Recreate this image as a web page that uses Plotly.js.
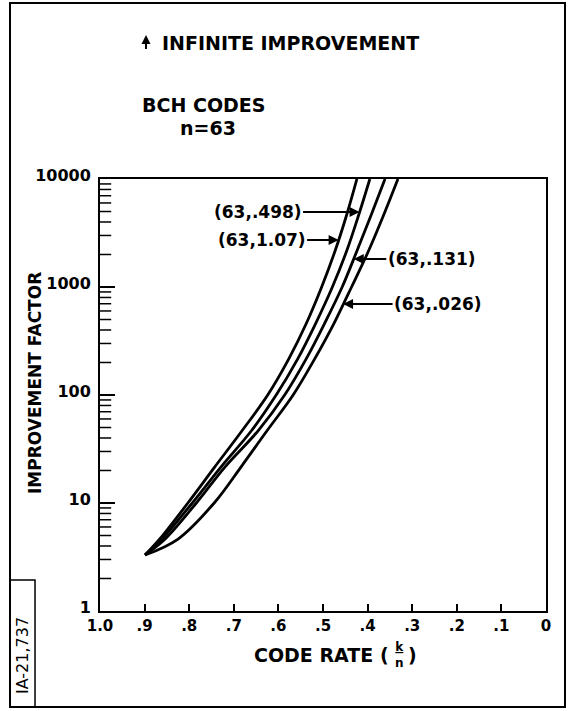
<!DOCTYPE html>
<html>
<head>
<meta charset="utf-8">
<script src="https://cdn.plot.ly/plotly-3.0.1.min.js"></script>
<style>html,body{margin:0;padding:0;background:#fff;}</style>
</head>
<body>
<div id="chart" style="width:568px;height:711px;"></div>
<script>
// ---- data ----
const improvement = [3.3, 4.64, 10, 21.5, 46.4, 100, 215, 464, 1000, 2154, 4642, 10000];
const rate_107 = [0.899, 0.866, 0.803, 0.743, 0.682, 0.624, 0.577, 0.537, 0.503, 0.473, 0.447, 0.424];
const rate_498 = [0.899, 0.861, 0.793, 0.729, 0.661, 0.605, 0.557, 0.516, 0.479, 0.447, 0.420, 0.395];
const rate_131 = [0.899, 0.854, 0.784, 0.720, 0.646, 0.586, 0.538, 0.496, 0.457, 0.424, 0.392, 0.361];
const rate_026 = [0.899, 0.825, 0.744, 0.684, 0.626, 0.567, 0.519, 0.475, 0.436, 0.398, 0.364, 0.332];
const curveLabels = ['(63,1.07)', '(63,.498)', '(63,.131)', '(63,.026)'];
const infiniteRates = [0.426, 0.287, 0.119];
const xTickVals = [1.0, 0.9, 0.8, 0.7, 0.6, 0.5, 0.4, 0.3, 0.2, 0.1, 0];
const xTickText = ['1.0', '.9', '.8', '.7', '.6', '.5', '.4', '.3', '.2', '.1', '0'];
const yTickVals = [1, 10, 100, 1000, 10000];
const yTickText = ['1', '10', '100', '1000', '10000'];
const yMinorVals = [2,3,4,5,6,7,8,9,20,30,40,50,60,70,80,90,200,300,400,500,600,700,800,900,2000,3000,4000,5000,6000,7000,8000,9000];

const FONT = 'DejaVu Sans';
const series = [rate_107, rate_498, rate_131, rate_026];
const traces = series.map((xs, i) => ({
  type: 'scatter', mode: 'lines', x: xs, y: improvement, name: curveLabels[i],
  line: {color: 'black', width: 2.8, shape: 'spline', smoothing: 1.0},
  hoverinfo: 'skip'
}));
// short minor tick marks on the left axis (clipped to the plot area, so only the inside half shows)
traces.push({
  type: 'scatter', mode: 'markers', x: yMinorVals.map(() => 1.0), y: yMinorVals,
  marker: {symbol: 'line-ew', size: 16, color: 'black', line: {color: 'black', width: 1.5}},
  cliponaxis: true, hoverinfo: 'skip', showlegend: false
});

// label arrows: tip location (x, log10 y) and text offset in px
const labelTips = [
  {x: 0.465, y: 3.435, ax: -77},
  {x: 0.418, y: 3.694, ax: -102},
  {x: 0.431, y: 3.259, ax: 78},
  {x: 0.455, y: 2.843, ax: 95}
];
const annotations = [];
labelTips.forEach((t, i) => {
  annotations.push({
    x: t.x, y: t.y, xref: 'x', yref: 'y', ax: t.ax, ay: 0,
    text: curveLabels[i], showarrow: true, arrowhead: 2, arrowsize: 1, arrowwidth: 2,
    arrowcolor: 'black', font: {family: FONT, size: 17, color: 'black', weight: 'bold'}
  });
});
infiniteRates.forEach((r, i) => {
  annotations.push({
    x: r, y: i === 0 ? 4.204 : 4.24, xref: 'x', yref: 'y', ax: 0, ay: i === 0 ? 22 : 26,
    text: ' ', font: {size: 1}, showarrow: true, arrowhead: 2, arrowsize: 1.1, arrowwidth: 2,
    arrowcolor: 'black', standoff: 0
  });
});
// title arrow
annotations.push({x: 0.1031, y: 1.3333, xref: 'paper', yref: 'paper', ax: 0, ay: 16,
  text: ' ', font: {size: 1}, showarrow: true, arrowhead: 2, arrowsize: 0.9, arrowwidth: 2, arrowcolor: 'black'});
const txt = (text, x, y, opts) => Object.assign({
  text: text, x: x, y: y, xref: 'paper', yref: 'paper', showarrow: false,
  xanchor: 'left', yanchor: 'middle',
  font: {family: FONT, size: 19, color: 'black', weight: 'bold'}
}, opts || {});
annotations.push(txt('INFINITE IMPROVEMENT', 0.1345, 1.3148));
annotations.push(txt('BCH CODES', 0.0897, 1.1713));
annotations.push(txt('n=63', 0.1749, 1.118));
annotations.push(txt('IMPROVEMENT FACTOR', -0.1457, 0.5278,
  {xanchor: 'center', textangle: -90, font: {family: FONT, size: 17, color: 'black', weight: 'bold'}}));
annotations.push(txt('CODE RATE (', 0.6525, -0.1019,
  {xanchor: 'right', font: {family: FONT, size: 19, color: 'black', weight: 'bold'}}));
annotations.push(txt('<u>k</u><br>n', 0.6726, -0.1019,
  {xanchor: 'center', font: {family: FONT, size: 12, color: 'black', weight: 'bold'}}));
annotations.push(txt(')', 0.6861, -0.1019,
  {font: {family: FONT, size: 19, color: 'black', weight: 'bold'}}));
annotations.push(txt('IA-21,737', -0.1749, -0.1019,
  {xanchor: 'center', textangle: -90, font: {family: FONT, size: 16, color: 'black'}}));

const layout = {
  width: 568, height: 711,
  margin: {l: 100, r: 22, t: 179, b: 100, pad: 0},
  paper_bgcolor: 'white', plot_bgcolor: 'white', showlegend: false,
  font: {family: FONT, color: 'black'},
  xaxis: {
    range: [1, 0], tickmode: 'array', tickvals: xTickVals, ticktext: xTickText,
    ticks: 'inside', ticklen: 7, tickwidth: 2, tickcolor: 'black',
    showline: true, linewidth: 2, linecolor: 'black', mirror: true,
    showgrid: false, zeroline: false,
    tickfont: {family: FONT, size: 15, color: 'black', weight: 'bold'}
  },
  yaxis: {
    type: 'log', range: [0, 4], tickmode: 'array', tickvals: yTickVals, ticktext: yTickText,
    ticks: 'inside', ticklen: 15, tickwidth: 2, tickcolor: 'black',
    showline: true, linewidth: 2, linecolor: 'black', mirror: true,
    showgrid: false, zeroline: false,
    ticklabelstandoff: 4, ticklabelshift: -4,
    tickfont: {family: FONT, size: 16, color: 'black', weight: 'bold'}
  },
  annotations: annotations,
  shapes: [
    {type: 'rect', xref: 'paper', yref: 'paper', x0: -0.2018, x1: 1.0426, y0: -0.2222, y1: 1.4074,
     line: {color: 'black', width: 2}},
    {type: 'rect', xref: 'paper', yref: 'paper', x0: -0.2018, x1: -0.1457, y0: -0.2222, y1: 0.0718,
     line: {color: 'black', width: 1.5}}
  ]
};

Plotly.newPlot('chart', traces, layout, {staticPlot: true, displayModeBar: false});
</script>
</body>
</html>
